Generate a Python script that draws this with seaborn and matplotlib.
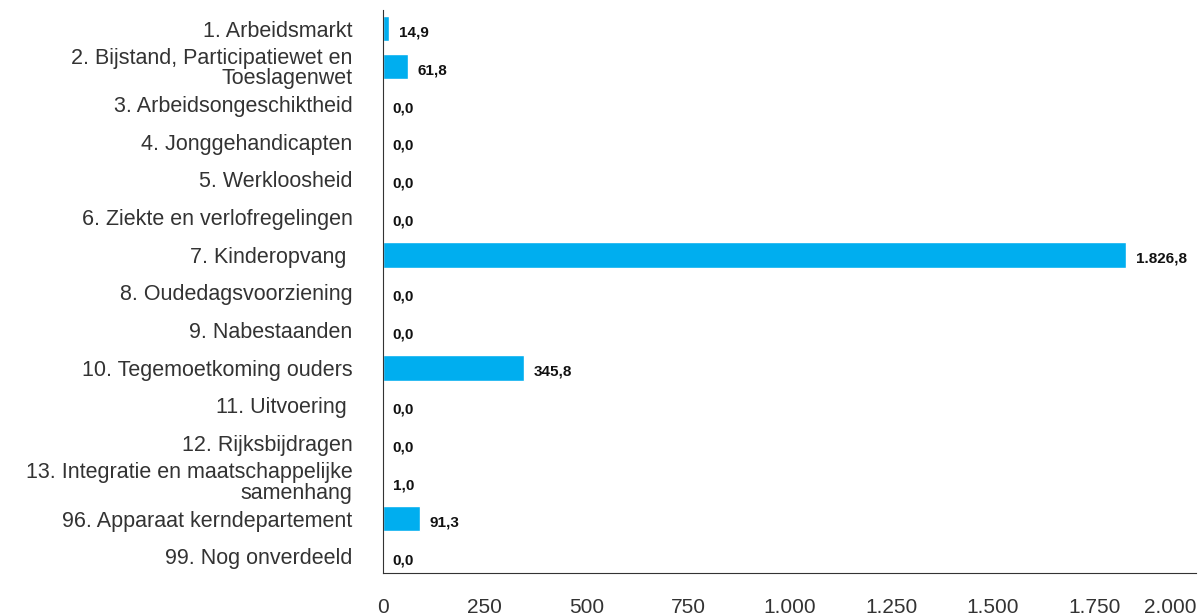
import matplotlib
matplotlib.use("Agg")
import matplotlib.pyplot as plt
import seaborn as sns
import pandas as pd

# categories and values (mln euro)
categories = [
    "1. Arbeidsmarkt",
    "2. Bijstand, Participatiewet en\nToeslagenwet",
    "3. Arbeidsongeschiktheid",
    "4. Jonggehandicapten",
    "5. Werkloosheid",
    "6. Ziekte en verlofregelingen",
    "7. Kinderopvang ",
    "8. Oudedagsvoorziening",
    "9. Nabestaanden",
    "10. Tegemoetkoming ouders",
    "11. Uitvoering ",
    "12. Rijksbijdragen",
    "13. Integratie en maatschappelijke\nsamenhang",
    "96. Apparaat kerndepartement",
    "99. Nog onverdeeld",
]
values = [14.9, 61.8, 0.0, 0.0, 0.0, 0.0, 1826.8, 0.0, 0.0, 345.8, 0.0, 0.0, 1.0, 91.3, 0.0]
x_ticks = [0, 250, 500, 750, 1000, 1250, 1500, 1750, 2000]


def nl(v, dec=1):
    s = f"{v:,.{dec}f}"
    return s.replace(",", "X").replace(".", ",").replace("X", ".")


df = pd.DataFrame({"cat": categories, "val": values})

sns.set_style("white")
plt.rcParams["font.family"] = ["Liberation Sans", "DejaVu Sans"]

fig = plt.figure(figsize=(12.01, 6.15), dpi=100)
ax = fig.add_axes([0.319, 0.068, 0.677, 0.916])

sns.barplot(data=df, x="val", y="cat", orient="h", color="#00AEEF",
            width=0.68, saturation=1, ax=ax)

# value labels next to the bars
for i, v in enumerate(values):
    ax.annotate(nl(v), (v, i), xytext=(7, -3), textcoords="offset points",
                ha="left", va="center", fontsize=11, fontweight="bold", color="#111111")

ax.set_xlim(0, 2000)
ax.set_ylim(14.45, -0.5)
ax.set_xticks(x_ticks)
ax.set_xticklabels([nl(t, 0) for t in x_ticks], fontsize=15, color="#333333")
ax.get_xticklabels()[-1].set_horizontalalignment("right")
ax.tick_params(axis="x", direction="out", length=6, width=1, color="#333333", pad=12)
ax.tick_params(axis="y", length=0, pad=22, labelsize=15.5, labelcolor="#333333")
for lbl in ax.get_yticklabels():
    lbl.set_linespacing(0.95)
ax.set_xlabel("")
ax.set_ylabel("")
sns.despine(ax=ax, top=True, right=True)
ax.spines["left"].set_color("#333333")
ax.spines["bottom"].set_color("#333333")

fig.savefig("out.png", dpi=100)
